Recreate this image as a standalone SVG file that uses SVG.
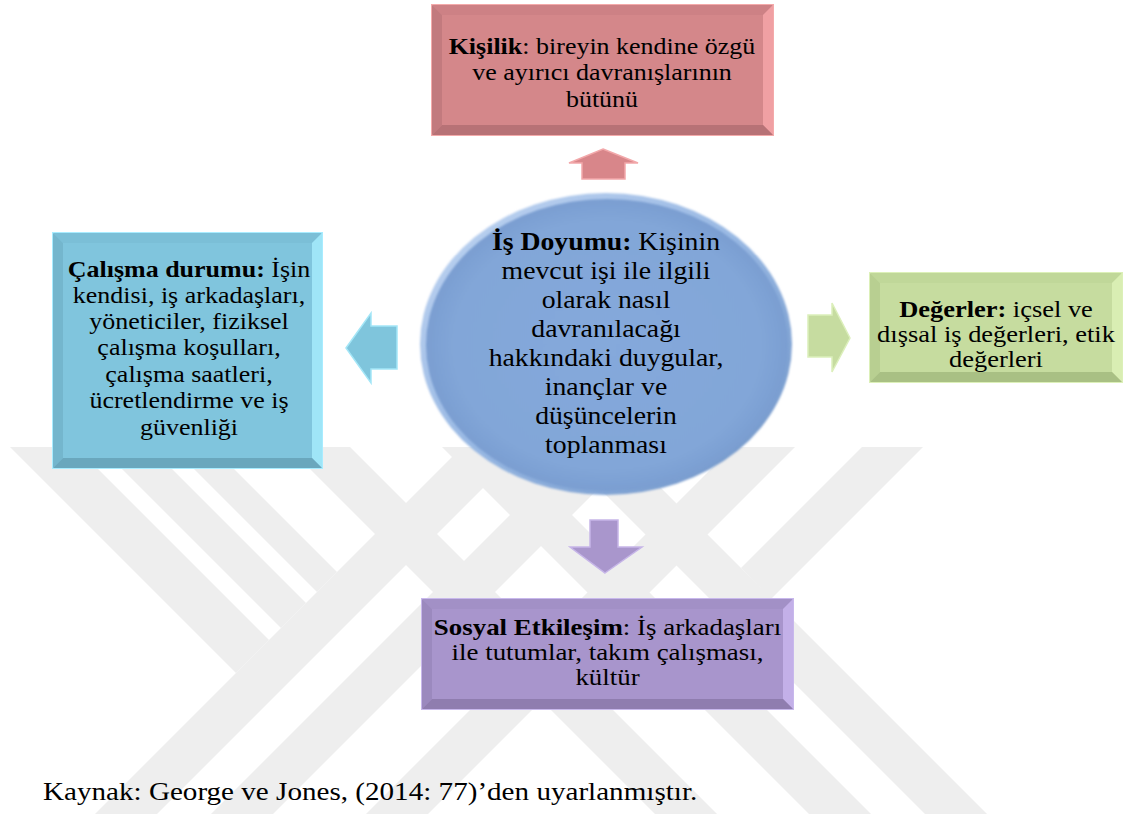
<svg xmlns="http://www.w3.org/2000/svg" width="1127" height="822" viewBox="0 0 1127 822">
  <style>
    .t { font-family: "Liberation Serif", "Times New Roman", serif; font-size: 23px; fill: #000; text-anchor: middle; }
    .big { font-size: 25px; }
    .b { font-weight: bold; }
    .cap { font-family: "Liberation Serif", "Times New Roman", serif; font-size: 26px; fill: #000; }
    .wm { fill: #eeeeee; }
  </style>
  <defs>
    <linearGradient id="rim" x1="0" y1="0" x2="1" y2="1">
      <stop offset="0" stop-color="#c2d6f2"/>
      <stop offset="0.5" stop-color="#98b8e3"/>
      <stop offset="1" stop-color="#6c91c5"/>
    </linearGradient>
    <radialGradient id="core" cx="0.5" cy="0.5" r="0.5">
      <stop offset="0" stop-color="#85a9db"/>
      <stop offset="0.85" stop-color="#82a6d8"/>
      <stop offset="1" stop-color="#7a9ed1"/>
    </radialGradient>
    <filter id="soft" x="-10%" y="-10%" width="120%" height="120%">
      <feGaussianBlur stdDeviation="1.2"/>
    </filter>
    <clipPath id="wmClip">
      <rect x="0" y="447" width="1127" height="367"/>
    </clipPath>
  </defs>

  <rect width="1127" height="822" fill="#ffffff"/>

  <!-- faint background emblem made of 45° bands -->
  <g id="watermark" class="wm" clip-path="url(#wmClip)">
    <!-- rising bands -->
    <polygon points="95,814 157,814 524,447 462,447"/>
    <polygon points="211,814 273,814 640,447 578,447"/>
    <polygon points="366,814 428,814 795,447 733,447"/>
    <!-- falling bands -->
    <polygon points="558,447 620,447 987,814 925,814"/>
    <polygon points="442,447 504,447 871,814 809,814"/>
    <polygon points="288,447 350,447 717,814 655,814"/>
    <!-- short falling bands ending on the first rising band -->
    <polygon points="10,447 76,447 269,640 236,673"/>
    <polygon points="100,447 150,447 306,603 281,628"/>
    <polygon points="172,447 212,447 337,572 317,592"/>
    <!-- short rising band ending on the first falling band -->
    <polygon points="862,447 923,447 771,599 741,568"/>
  </g>

  <!-- connectors: block arrows pointing from the centre to each factor -->
  <g id="connectors">
    <polygon id="arrow-up" points="603,149 638,163 625,163 625,179 582,179 582,163 569,163" fill="#d8868a" stroke="#f2a8aa" stroke-width="1.5"/>
    <polygon id="arrow-left" points="346,348 371,313 371,326 397,326 397,369 371,369 371,383" fill="#7fc5dc" stroke="#a4e6f7" stroke-width="1.5"/>
    <polygon id="arrow-right" points="850,338 832,303 832,315 808,315 808,357 832,357 832,372" fill="#c6dca0" stroke="#dcefbb" stroke-width="1.5"/>
    <polygon id="arrow-down" points="605,573 642,547 618,547 618,520 590,520 590,547 570,547" fill="#a996cc" stroke="#c6b5e8" stroke-width="1.5"/>
  </g>

  <!-- centre: job satisfaction -->
  <g id="node-is-doyumu">
    <ellipse cx="606" cy="344" rx="186" ry="151" fill="url(#rim)" filter="url(#soft)"/>
    <ellipse cx="607" cy="345" rx="181" ry="146" fill="url(#core)" filter="url(#soft)"/>
    <g transform="translate(606 0) scale(1.11 1)">
      <text class="t big" x="0" y="250"><tspan class="b">İş Doyumu:</tspan> Kişinin</text>
      <text class="t big" x="0" y="279">mevcut işi ile ilgili</text>
      <text class="t big" x="0" y="308">olarak nasıl</text>
      <text class="t big" x="0" y="337">davranılacağı</text>
      <text class="t big" x="0" y="366">hakkındaki duygular,</text>
      <text class="t big" x="0" y="395">inançlar ve</text>
      <text class="t big" x="0" y="424">düşüncelerin</text>
      <text class="t big" x="0" y="453">toplanması</text>
    </g>
  </g>

  <!-- top: personality -->
  <g id="node-kisilik">
    <rect x="432" y="5" width="341" height="130" fill="#d4878a" stroke="#f4aaaa" stroke-width="2"/>
    <polygon points="432,5 773,5 763,15 442,15" fill="#cd8185"/>
    <polygon points="432,5 442,15 442,125 432,135" fill="#c27a7e"/>
    <polygon points="773,5 773,135 763,125 763,15" fill="#f0a0a3"/>
    <polygon points="432,135 773,135 763,125 442,125" fill="#b77276"/>
    <g transform="translate(602 0) scale(1.13 1)">
      <text class="t" x="0" y="54"><tspan class="b">Kişilik</tspan>: bireyin kendine özgü</text>
      <text class="t" x="0" y="80">ve ayırıcı davranışlarının</text>
      <text class="t" x="0" y="107">bütünü</text>
    </g>
  </g>

  <!-- left: working conditions -->
  <g id="node-calisma-durumu">
    <rect x="53" y="233" width="269" height="235" fill="#80c5dd" stroke="#a8ecff" stroke-width="2"/>
    <polygon points="53,233 322,233 312,243 63,243" fill="#7bbfd7"/>
    <polygon points="53,233 63,243 63,458 53,468" fill="#74b6cd"/>
    <polygon points="322,233 322,468 312,458 312,243" fill="#9fe5f7"/>
    <polygon points="53,468 322,468 312,458 63,458" fill="#6aa7bd"/>
    <g transform="translate(189 0) scale(1.13 1)">
      <text class="t" x="0" y="277"><tspan class="b">Çalışma durumu:</tspan> İşin</text>
      <text class="t" x="0" y="303">kendisi, iş arkadaşları,</text>
      <text class="t" x="0" y="329">yöneticiler, fiziksel</text>
      <text class="t" x="0" y="355">çalışma koşulları,</text>
      <text class="t" x="0" y="382">çalışma saatleri,</text>
      <text class="t" x="0" y="408">ücretlendirme ve iş</text>
      <text class="t" x="0" y="435">güvenliği</text>
    </g>
  </g>

  <!-- right: values -->
  <g id="node-degerler">
    <rect x="870" y="273" width="252" height="109" fill="#c6dc9f" stroke="#dcf0b8" stroke-width="2"/>
    <polygon points="870,273 1122,273 1112,283 880,283" fill="#c0d799"/>
    <polygon points="870,273 880,283 880,372 870,382" fill="#b8cf91"/>
    <polygon points="1122,273 1122,382 1112,372 1112,283" fill="#d9eeb3"/>
    <polygon points="870,382 1122,382 1112,372 880,372" fill="#a9c084"/>
    <g transform="translate(996 0) scale(1.15 1)">
      <text class="t" x="0" y="317"><tspan class="b">Değerler:</tspan> içsel ve</text>
      <text class="t" x="0" y="342">dışsal iş değerleri, etik</text>
      <text class="t" x="0" y="367">değerleri</text>
    </g>
  </g>

  <!-- bottom: social interaction -->
  <g id="node-sosyal-etkilesim">
    <rect x="422" y="599" width="371" height="110" fill="#a895cc" stroke="#c8b8ec" stroke-width="2"/>
    <polygon points="422,599 793,599 783,609 432,609" fill="#a290c6"/>
    <polygon points="422,599 432,609 432,699 422,709" fill="#9b89be"/>
    <polygon points="793,599 793,709 783,699 783,609" fill="#c3b0e8"/>
    <polygon points="422,709 793,709 783,699 432,699" fill="#8f7daf"/>
    <g transform="translate(607.5 0) scale(1.17 1)">
      <text class="t" x="0" y="635"><tspan class="b">Sosyal Etkileşim</tspan>: İş arkadaşları</text>
      <text class="t" x="0" y="660">ile tutumlar, takım çalışması,</text>
      <text class="t" x="0" y="685">kültür</text>
    </g>
  </g>

  <!-- source note -->
  <g id="caption" transform="translate(43 0) scale(1.12 1)">
    <text class="cap" x="0" y="800">Kaynak: George ve Jones, (2014: 77)’den uyarlanmıştır.</text>
  </g>
</svg>
